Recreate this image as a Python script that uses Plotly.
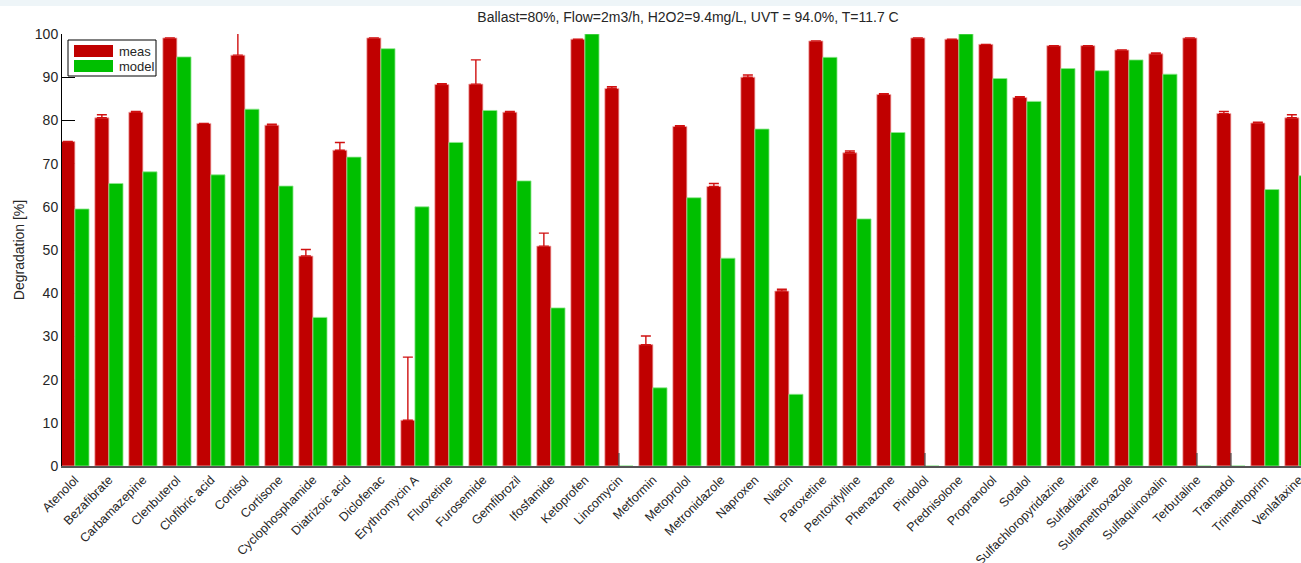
import plotly.graph_objects as go

# Compounds and degradation results (measured vs. model), in percent
compounds = [
    "Atenolol", "Bezafibrate", "Carbamazepine", "Clenbuterol", "Clofibric acid",
    "Cortisol", "Cortisone", "Cyclophosphamide", "Diatrizoic acid", "Diclofenac",
    "Erythromycin A", "Fluoxetine", "Furosemide", "Gemfibrozil", "Ifosfamide",
    "Ketoprofen", "Lincomycin", "Metformin", "Metoprolol", "Metronidazole",
    "Naproxen", "Niacin", "Paroxetine", "Pentoxifylline", "Phenazone",
    "Pindolol", "Prednisolone", "Propranolol", "Sotalol", "Sulfachloropyridazine",
    "Sulfadiazine", "Sulfamethoxazole", "Sulfaquinoxalin", "Terbutaline", "Tramadol",
    "Trimethoprim", "Venlafaxine",
]

meas = [
    75.1, 80.6, 81.9, 99.1, 79.3,
    95.1, 78.9, 48.6, 73.1, 99.1,
    10.6, 88.3, 88.4, 81.9, 50.9,
    98.8, 87.4, 28.1, 78.6, 64.7,
    90.0, 40.5, 98.4, 72.5, 86.0,
    99.1, 98.8, 97.6, 85.3, 97.3,
    97.3, 96.3, 95.4, 99.1, 81.6,
    79.4, 80.6,
]

# upper error of the measurement (None = no error bar)
meas_err = [
    None, 0.7, 0.2, None, None,
    6.0, 0.2, 1.5, 1.8, None,
    14.6, 0.2, 5.6, 0.2, 3.0,
    None, 0.4, 2.0, 0.2, 0.7,
    0.5, 0.4, None, 0.4, 0.2,
    None, None, None, 0.2, None,
    None, None, 0.2, None, 0.5,
    0.2, 0.7,
]

model = [
    59.5, 65.4, 68.1, 94.7, 67.4,
    82.6, 64.8, 34.4, 71.5, 96.6,
    60.0, 74.9, 82.3, 66.0, 36.6,
    100.0, 0.0, 18.1, 62.1, 48.1,
    78.0, 16.6, 94.6, 57.2, 77.2,
    0.0, 100.0, 89.7, 84.4, 92.0,
    91.5, 94.0, 90.7, 0.0, 0.0,
    64.0, 67.2,
]

title_text = "Ballast=80%, Flow=2m3/h, H2O2=9.4mg/L, UVT = 94.0%, T=11.7 C"
y_ticks = [0, 10, 20, 30, 40, 50, 60, 70, 80, 90, 100]

RED = "#c00000"
GREEN = "#00bf00"
FONT = "Liberation Sans, Arial, sans-serif"
W, H = 1301, 563
L, R, T, B = 62, 0, 34, 97


def px_x(p):
    return (p - L) / (W - L - R)


def px_y(p):
    return (H - B - p) / (H - T - B)


fig = go.Figure()

fig.add_trace(go.Bar(
    x=compounds, y=meas, name="meas",
    marker=dict(color=RED, line=dict(color="#f2b0b0", width=0.8)),
    error_y=dict(type="data", symmetric=False, array=meas_err,
                 arrayminus=[0 if e is not None else None for e in meas_err],
                 color="#d01010", thickness=1.4, width=5),
))
fig.add_trace(go.Bar(
    x=compounds, y=model, name="model",
    marker=dict(color=GREEN, line=dict(color="#8fe88f", width=0.8)),
))

# short stems drawn where the model gives no result
stem_x, stem_y = [], []
for c, v in zip(compounds, model):
    if v == 0:
        stem_x += [c, c, None]
        stem_y += [0, 3, None]
fig.add_trace(go.Scatter(x=stem_x, y=stem_y, mode="lines",
                         line=dict(color="#444444", width=1.2),
                         showlegend=False, hoverinfo="skip"))

fig.update_layout(
    width=W, height=H,
    margin=dict(l=L, r=R, t=T, b=B, autoexpand=False),
    paper_bgcolor="white", plot_bgcolor="white",
    barmode="group", bargap=0.17, bargroupgap=0,
    showlegend=False,
    font=dict(family=FONT, color="#262626"),
    title=dict(text=title_text, x=688 / W, xref="container", xanchor="center",
               y=1 - 17 / H, yref="container", yanchor="middle",
               font=dict(size=14, color="#262626", family=FONT)),
)

fig.update_xaxes(
    range=[-0.38, (W - R - L) / 34.0 - 0.38],
    showline=True, linecolor="#555555", linewidth=1.5,
    ticks="", tickangle=-45, tickfont=dict(size=12.5, color="#262626"),
    showgrid=False, zeroline=False, layer="below traces",
)
fig.update_yaxes(
    range=[0, 100], tickvals=y_ticks,
    showline=True, linecolor="black", linewidth=1,
    ticks="inside", ticklen=13, tickcolor="black", tickwidth=1,
    tickfont=dict(size=14, color="#262626"),
    showgrid=False, zeroline=False, layer="below traces",
    title=dict(text="Degradation [%]", font=dict(size=14, color="#262626"), standoff=6),
)

# thin light band along the top of the page
fig.add_shape(type="rect", xref="paper", yref="paper",
              x0=px_x(0), x1=px_x(W), y0=px_y(0), y1=px_y(6),
              fillcolor="#eef5f8", line=dict(width=0), layer="below")

# legend box
fig.add_shape(type="rect", xref="paper", yref="paper",
              x0=px_x(68), x1=px_x(156), y0=px_y(76), y1=px_y(40),
              fillcolor="white", line=dict(color="black", width=1))
for (y0, y1, col, label) in [(45, 57, RED, "meas"), (60, 72, GREEN, "model")]:
    fig.add_shape(type="rect", xref="paper", yref="paper",
                  x0=px_x(74), x1=px_x(113), y0=px_y(y1), y1=px_y(y0),
                  fillcolor=col, line=dict(width=0))
    fig.add_annotation(xref="paper", yref="paper", x=px_x(117), y=px_y((y0 + y1) / 2),
                       text=label, showarrow=False, xanchor="left", yanchor="middle",
                       font=dict(size=13, color="#262626", family=FONT))

fig.write_html("out.html")
